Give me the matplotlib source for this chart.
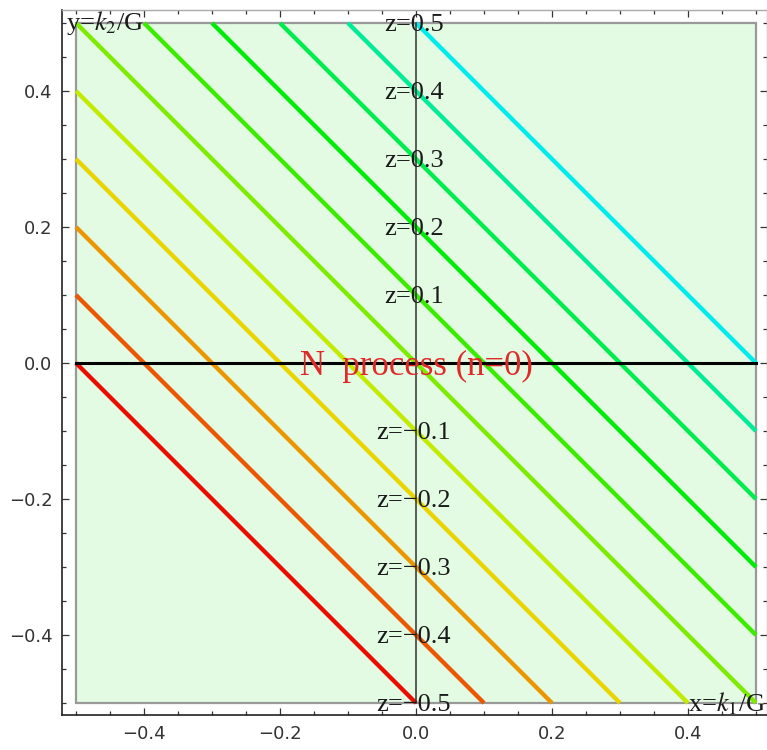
import matplotlib
matplotlib.use('Agg')
import matplotlib.pyplot as plt
from matplotlib import font_manager
from matplotlib.colors import hsv_to_rgb
from matplotlib.patches import Rectangle
from matplotlib.ticker import MultipleLocator

# contour levels z = x + y, drawn inside the unit box
z_levels = [-0.5, -0.4, -0.3, -0.2, -0.1, 0.0, 0.1, 0.2, 0.3, 0.4, 0.5]
label_levels = [0.5, 0.4, 0.3, 0.2, 0.1, -0.1, -0.2, -0.3, -0.4, -0.5]
x_ticks = [-0.4, -0.2, 0.0, 0.2, 0.4]
y_ticks = [-0.4, -0.2, 0.0, 0.2, 0.4]
box_lo, box_hi = -0.5, 0.5
center_text = "N  process (n=0)"
x_label = r"x=$k_1$/G"
y_label = r"y=$k_2$/G"

# line hues (degrees), red -> cyan
hues = [3, 22, 38, 54, 70, 88, 105, 122, 140, 158, 180]

plt.rcParams['mathtext.fontset'] = 'stix'

# narrow sans for tick labels if there is one
names = {f.name for f in font_manager.fontManager.ttflist}
tick_font = 'DejaVu Sans'
for cand in ['Liberation Sans Narrow', 'DejaVu Sans Condensed']:
    if cand in names:
        tick_font = cand
        break

fig = plt.figure(figsize=(7.67, 7.5), dpi=100)
ax = fig.add_axes([62/767, 35/750, 705/767, 705/750])
ax.set_xlim(-0.5206, 0.5162)
ax.set_ylim(-0.5176, 0.5191)

# shaded region
ax.add_patch(Rectangle((box_lo, box_lo), box_hi - box_lo, box_hi - box_lo,
                       facecolor='#e2fbe2', edgecolor='#999999', lw=1.6, zorder=1))

# contour lines
for c, h in zip(z_levels, hues):
    col = hsv_to_rgb((h / 360.0, 1.0, 0.92))
    x0 = max(box_lo, c - box_hi)
    x1 = min(box_hi, c - box_lo)
    ax.plot([x0, x1], [c - x0, c - x1], color=col, lw=3.1,
            solid_capstyle='butt', zorder=3)

# axes through origin
ax.plot([box_lo, box_hi], [0, 0], color='black', lw=2.2, zorder=4)
ax.plot([0, 0], [box_lo, box_hi], color='#303030', lw=1.1, zorder=4)

# level labels along x=0
for c in label_levels:
    txt = f"z={c:.1f}".replace('-', '\u2212')
    ax.text(-0.003, c - 0.012, txt, ha='center', va='baseline',
            fontsize=19, family='Liberation Serif', color='#1a1a1a', zorder=5)

ax.text(0.0, -0.018, center_text, ha='center', va='baseline', fontsize=25,
        family='Liberation Serif', color='#e02a2a', zorder=5)

ax.text(-0.5147, 0.4897, y_label, ha='left', va='baseline', fontsize=19,
        family='Liberation Serif', color='#1a1a1a', zorder=5, clip_on=False)
ax.text(0.515, -0.512, x_label, ha='right', va='baseline', fontsize=19,
        family='Liberation Serif', color='#1a1a1a', zorder=5, clip_on=False)

# frame and ticks
ax.set_xticks(x_ticks)
ax.set_yticks(y_ticks)
ax.xaxis.set_minor_locator(MultipleLocator(0.05))
ax.yaxis.set_minor_locator(MultipleLocator(0.05))
ax.tick_params(which='both', direction='in', top=True, right=True,
               color='#333333', width=0.9)
ax.tick_params(which='major', length=5, labelsize=13, labelcolor='#333333', pad=7)
ax.tick_params(which='minor', length=3)
for lab in ax.get_xticklabels() + ax.get_yticklabels():
    lab.set_family(tick_font)
ax.xaxis.set_major_formatter(plt.FuncFormatter(lambda v, p: f"{v:.1f}".replace('-', '\u2212')))
ax.yaxis.set_major_formatter(plt.FuncFormatter(lambda v, p: f"{v:.1f}".replace('-', '\u2212')))
for s in ['left', 'bottom']:
    ax.spines[s].set_color('#222222')
    ax.spines[s].set_linewidth(1.2)
for s in ['top', 'right']:
    ax.spines[s].set_color('#aaaaaa')
    ax.spines[s].set_linewidth(1.0)

fig.savefig('out.png', dpi=100)
